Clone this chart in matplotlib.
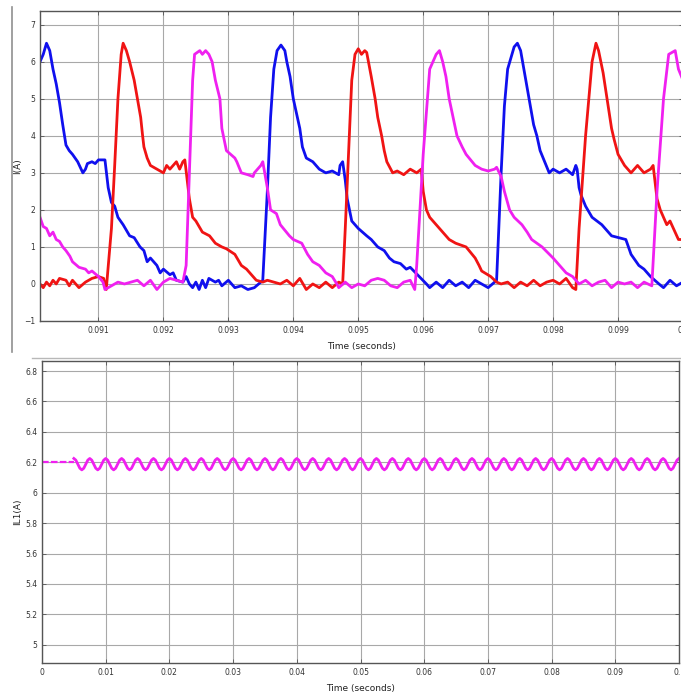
import numpy as np
import matplotlib
matplotlib.use("Agg")
import matplotlib.pyplot as plt
from matplotlib.lines import Line2D

# ---- top panel: phase currents ----
blue_t = [0.0901, 0.09015, 0.0902, 0.09025, 0.0903, 0.09035, 0.0904, 0.09045, 0.0905, 0.09055,
          0.0906, 0.09068, 0.09076, 0.0908, 0.09083, 0.0909, 0.09095, 0.091, 0.0911, 0.09115,
          0.0912, 0.09125, 0.0913, 0.09138, 0.09148, 0.09155, 0.09164, 0.0917, 0.09175, 0.0918,
          0.0919, 0.09195, 0.092, 0.0921, 0.09215, 0.0922, 0.0923, 0.09235, 0.0924, 0.09245,
          0.0925, 0.09255, 0.0926, 0.09265, 0.0927, 0.0928, 0.09285, 0.0929, 0.093, 0.0931,
          0.0932, 0.0933, 0.0934, 0.0935, 0.09353, 0.0936, 0.09365, 0.0937, 0.09375, 0.09381,
          0.09387, 0.0939, 0.09395, 0.094, 0.09405, 0.0941, 0.09414, 0.0942, 0.0943, 0.0944,
          0.0945, 0.0946, 0.0947, 0.09472, 0.09476, 0.0948, 0.09483, 0.0949, 0.09495, 0.095,
          0.09513, 0.0952, 0.0953, 0.0954, 0.09548, 0.09555, 0.09565, 0.09574, 0.0958, 0.09594,
          0.09605, 0.0961, 0.0962, 0.0963, 0.0964, 0.0965, 0.0966, 0.0967, 0.0968, 0.0969,
          0.097, 0.0971, 0.09713, 0.0972, 0.09725, 0.0973, 0.0974, 0.09745, 0.0975, 0.0976,
          0.09765, 0.0977, 0.09775, 0.0978, 0.09787, 0.09794, 0.098, 0.0981, 0.0982, 0.0983,
          0.09835, 0.09837, 0.0984, 0.09843, 0.0985, 0.0986, 0.09875, 0.0989, 0.09912, 0.0992,
          0.09932, 0.0994, 0.0995, 0.09963, 0.0997, 0.0998, 0.0999, 0.1]
blue_i = [6.0, 6.2, 6.5, 6.3, 5.8, 5.4, 4.9, 4.3, 3.75, 3.6,
          3.5, 3.3, 3.0, 3.1, 3.25, 3.3, 3.25, 3.35, 3.35, 2.6,
          2.2, 2.1, 1.8, 1.6, 1.3, 1.25, 1.0, 0.9, 0.6, 0.7,
          0.5, 0.3, 0.4, 0.25, 0.3, 0.1, 0.05, 0.2, 0.0, -0.1,
          0.05, -0.15, 0.1, -0.1, 0.15, 0.05, 0.1, -0.05, 0.1, -0.1,
          -0.05, -0.15, -0.1, 0.05, 0.1, 2.5, 4.5, 5.8, 6.3, 6.45,
          6.3, 6.0, 5.6, 5.0, 4.6, 4.2, 3.7, 3.4, 3.3, 3.1,
          3.0, 3.05, 2.95, 3.2, 3.3, 2.8, 2.3, 1.7, 1.6, 1.5,
          1.3, 1.2, 1.0, 0.9, 0.7, 0.6, 0.55, 0.4, 0.45, 0.2,
          0.0, -0.1, 0.05, -0.1, 0.1, -0.05, 0.05, -0.1, 0.1, 0.0,
          -0.1, 0.05, 0.1, 3.0, 4.8, 5.8, 6.4, 6.5, 6.3, 5.3,
          4.8, 4.3, 4.0, 3.6, 3.3, 3.0, 3.1, 3.0, 3.1, 2.95,
          3.2, 3.1, 2.6, 2.4, 2.1, 1.8, 1.6, 1.3, 1.2, 0.8,
          0.5, 0.4, 0.2, 0.0, -0.1, 0.1, -0.05, 0.05]

red_t = [0.0901, 0.09015, 0.0902, 0.09025, 0.0903, 0.09035, 0.0904, 0.0905, 0.09055, 0.0906,
         0.0907, 0.0908, 0.0909, 0.091, 0.09108, 0.09112, 0.0912, 0.09125, 0.0913, 0.09135,
         0.09138, 0.09143, 0.09148, 0.09155, 0.0916, 0.09165, 0.09168, 0.0917, 0.09175, 0.0918,
         0.0919, 0.092, 0.09205, 0.0921, 0.0922, 0.09225, 0.0923, 0.09233, 0.0924, 0.09245,
         0.0925, 0.0926, 0.09271, 0.0928, 0.0929, 0.09297, 0.0931, 0.0932, 0.09328, 0.09343,
         0.09353, 0.0936, 0.0937, 0.0938, 0.0939, 0.094, 0.0941, 0.0942, 0.0943, 0.0944,
         0.0945, 0.0946, 0.0947, 0.09476, 0.0948, 0.09485, 0.0949, 0.09495, 0.095, 0.09505,
         0.0951, 0.09513, 0.0952, 0.09526, 0.0953, 0.09536, 0.0954, 0.09544, 0.0955, 0.09553,
         0.0956, 0.0957, 0.0958, 0.0959, 0.09597, 0.096, 0.09605, 0.0961, 0.0962, 0.0963,
         0.0964, 0.0965, 0.09666, 0.0968, 0.09686, 0.0969, 0.09704, 0.09713, 0.0972, 0.0973,
         0.0974, 0.0975, 0.0976, 0.0977, 0.0978, 0.0979, 0.098, 0.0981, 0.0982, 0.0983,
         0.09835, 0.0984, 0.0985, 0.0986, 0.09866, 0.0987, 0.09877, 0.09883, 0.0989, 0.09894,
         0.099, 0.0991, 0.0992, 0.0993, 0.0994, 0.0995, 0.09954, 0.0996, 0.09965, 0.09975,
         0.0998, 0.09993, 0.1]
red_i = [0.0, -0.1, 0.05, -0.05, 0.1, 0.0, 0.15, 0.1, -0.05, 0.1,
         -0.1, 0.05, 0.15, 0.2, 0.15, -0.15, 1.5, 3.2, 5.0, 6.2,
         6.5, 6.3, 6.0, 5.5, 5.0, 4.5, 4.0, 3.7, 3.4, 3.2,
         3.1, 3.0, 3.2, 3.1, 3.3, 3.1, 3.3, 3.35, 2.3, 1.8,
         1.7, 1.4, 1.3, 1.1, 1.0, 0.95, 0.8, 0.5, 0.4, 0.1,
         0.05, 0.1, 0.05, 0.0, 0.1, -0.05, 0.15, -0.15, 0.0, -0.1,
         0.05, -0.1, 0.05, 0.0, 1.5, 3.5, 5.5, 6.2, 6.35, 6.2,
         6.3, 6.25, 5.6, 5.0, 4.5, 4.0, 3.6, 3.3, 3.1, 3.0,
         3.05, 2.95, 3.1, 3.0, 3.1, 2.5, 2.0, 1.8, 1.6, 1.4,
         1.2, 1.1, 1.0, 0.7, 0.5, 0.35, 0.2, 0.05, 0.0, 0.05,
         -0.1, 0.05, -0.05, 0.1, -0.05, 0.05, 0.1, 0.0, 0.15, -0.1,
         -0.15, 1.5, 4.0, 6.0, 6.5, 6.3, 5.7, 5.0, 4.2, 3.9,
         3.5, 3.2, 3.0, 3.2, 3.0, 3.1, 3.2, 2.3, 2.0, 1.6,
         1.7, 1.2, 1.2]

mag_t = [0.0901, 0.09015, 0.0902, 0.09025, 0.0903, 0.09035, 0.0904, 0.09045, 0.0905, 0.09056,
         0.0906, 0.0907, 0.0908, 0.09085, 0.0909, 0.091, 0.09107, 0.0911, 0.0912, 0.0913,
         0.0914, 0.0915, 0.0916, 0.0917, 0.0918, 0.0919, 0.092, 0.0921, 0.0922, 0.0923,
         0.09235, 0.0924, 0.09245, 0.09248, 0.09256, 0.0926, 0.09265, 0.0927, 0.09275, 0.0928,
         0.09287, 0.0929, 0.09297, 0.0931, 0.09313, 0.0932, 0.0933, 0.09338, 0.0934, 0.0935,
         0.09353, 0.0936, 0.09365, 0.09374, 0.0938, 0.09394, 0.094, 0.09413, 0.09422, 0.0943,
         0.0944, 0.0945, 0.0946, 0.09467, 0.0947, 0.0948, 0.0949, 0.095, 0.0951, 0.0952,
         0.0953, 0.0954, 0.0955, 0.0956, 0.0957, 0.0958, 0.09587, 0.0959, 0.096, 0.0961,
         0.0962, 0.09625, 0.0963, 0.09635, 0.0964, 0.09652, 0.0966, 0.09666, 0.0968, 0.0969,
         0.097, 0.0971, 0.09713, 0.0972, 0.09725, 0.09733, 0.0974, 0.09752, 0.0976, 0.09767,
         0.09775, 0.09783, 0.098, 0.0981, 0.0982, 0.0983, 0.0984, 0.0985, 0.0986, 0.0987,
         0.0988, 0.0989, 0.099, 0.0991, 0.0992, 0.0993, 0.0994, 0.09952, 0.0996, 0.0997,
         0.09978, 0.09988, 0.09993, 0.1]
mag_i = [1.8, 1.55, 1.5, 1.3, 1.4, 1.2, 1.15, 1.0, 0.9, 0.75,
         0.6, 0.45, 0.4, 0.3, 0.35, 0.2, 0.05, -0.15, -0.05, 0.05,
         0.0, 0.05, 0.1, -0.05, 0.1, -0.15, 0.05, 0.15, 0.1, 0.05,
         0.5, 3.0, 5.5, 6.2, 6.3, 6.2, 6.3, 6.2, 6.0, 5.5,
         5.0, 4.2, 3.6, 3.4, 3.3, 3.0, 2.95, 2.9, 3.0, 3.2,
         3.3, 2.6, 2.0, 1.9, 1.6, 1.3, 1.2, 1.1, 0.8, 0.6,
         0.5, 0.3, 0.2, 0.0, -0.1, 0.05, -0.1, 0.0, -0.05, 0.1,
         0.15, 0.1, -0.05, -0.1, 0.05, 0.1, -0.15, 0.5, 3.5, 5.8,
         6.2, 6.3, 6.0, 5.6, 5.0, 4.0, 3.7, 3.5, 3.2, 3.1,
         3.05, 3.1, 3.15, 2.9, 2.5, 2.0, 1.8, 1.6, 1.4, 1.2,
         1.1, 1.0, 0.7, 0.5, 0.3, 0.2, 0.0, 0.1, -0.05, 0.05,
         0.1, -0.1, 0.05, 0.0, 0.05, -0.1, 0.05, -0.05, 2.5, 5.0,
         6.2, 6.3, 5.8, 5.5]

top_xticks = [0.091, 0.092, 0.093, 0.094, 0.095, 0.096, 0.097, 0.098, 0.099, 0.1]
top_xlabels = ['0.091', '0.092', '0.093', '0.094', '0.095', '0.096', '0.097', '0.098', '0.099', '0.1']
top_yticks = [-1, 0, 1, 2, 3, 4, 5, 6, 7]

# ---- bottom panel: inductor current IL1 ----
il_flat_t = [0.0, 0.005]
il_flat_v = [6.2, 6.2]
il_ripple_start = 0.005
il_ripple_period = 0.0025
il_ripple_cycles = 38
# one ripple cycle, 8 samples, starting at a crest
il_cycle = [6.225, 6.214, 6.1875, 6.161, 6.15, 6.161, 6.1875, 6.214]

bot_xticks = [0, 0.01, 0.02, 0.03, 0.04, 0.05, 0.06, 0.07, 0.08, 0.09, 0.1]
bot_xlabels = ['0', '0.01', '0.02', '0.03', '0.04', '0.05', '0.06', '0.07', '0.08', '0.09', '0.1']
bot_yticks = [5, 5.2, 5.4, 5.6, 5.8, 6, 6.2, 6.4, 6.6, 6.8]
bot_ylabels = ['5', '5.2', '5.4', '5.6', '5.8', '6', '6.2', '6.4', '6.6', '6.8']

BLUE = '#1010ee'
RED = '#f01414'
MAG = '#f020f0'

fig = plt.figure(figsize=(6.81, 6.92), dpi=100)

# screenshot frame lines
fig.add_artist(Line2D([12 / 681, 12 / 681], [1 - 7 / 692, 1 - 352 / 692], color='#909090', lw=1.2))
fig.add_artist(Line2D([32 / 681, 1.0], [1 - 358 / 692, 1 - 358 / 692], color='#b8b8b8', lw=1.0))


def style_axes(ax):
    ax.grid(True, color='#a8a8a8', lw=0.8)
    ax.set_axisbelow(True)
    for s in ax.spines.values():
        s.set_color('#555555')
        s.set_linewidth(1.0)
    ax.tick_params(direction='in', length=3, width=0.6, colors='#555555',
                   labelsize=5.5, labelcolor='#333333', right=True, top=True)


ax1 = fig.add_axes([40 / 681, 1 - 321 / 692, 643 / 681, 310 / 692])
ax1.plot(blue_t, blue_i, color=BLUE, lw=2.0)
ax1.plot(red_t, red_i, color=RED, lw=2.0)
ax1.plot(mag_t, mag_i, color=MAG, lw=2.0)
ax1.set_xlim(0.0901, 0.1)
ax1.set_ylim(-1, 7.37)
ax1.set_xticks(top_xticks)
ax1.set_xticklabels(top_xlabels)
ax1.set_yticks(top_yticks)
style_axes(ax1)
ax1.set_xlabel('Time (seconds)', fontsize=6.5, color='#222222', labelpad=5)
ax1.set_ylabel('I(A)', fontsize=6.5, color='#222222', labelpad=1)

ax2 = fig.add_axes([42 / 681, 1 - 663 / 692, 637 / 681, 302 / 692])
ripple_v = np.tile(il_cycle, il_ripple_cycles)
ripple_v = np.append(ripple_v, il_cycle[0])
ripple_t = il_ripple_start + np.arange(len(ripple_v)) * (il_ripple_period / len(il_cycle))
ax2.plot(il_flat_t, il_flat_v, color=MAG, lw=1.6, ls=(0, (3, 1)))
ax2.plot(ripple_t, ripple_v, color=MAG, lw=2.0)
ax2.set_xlim(0, 0.1)
ax2.set_ylim(4.88, 6.866)
ax2.set_xticks(bot_xticks)
ax2.set_xticklabels(bot_xlabels)
ax2.set_yticks(bot_yticks)
ax2.set_yticklabels(bot_ylabels)
style_axes(ax2)
ax2.set_xlabel('Time (seconds)', fontsize=6.5, color='#222222', labelpad=5)
ax2.set_ylabel('IL1(A)', fontsize=6.5, color='#222222', labelpad=2)

fig.savefig('out.png', dpi=100)
